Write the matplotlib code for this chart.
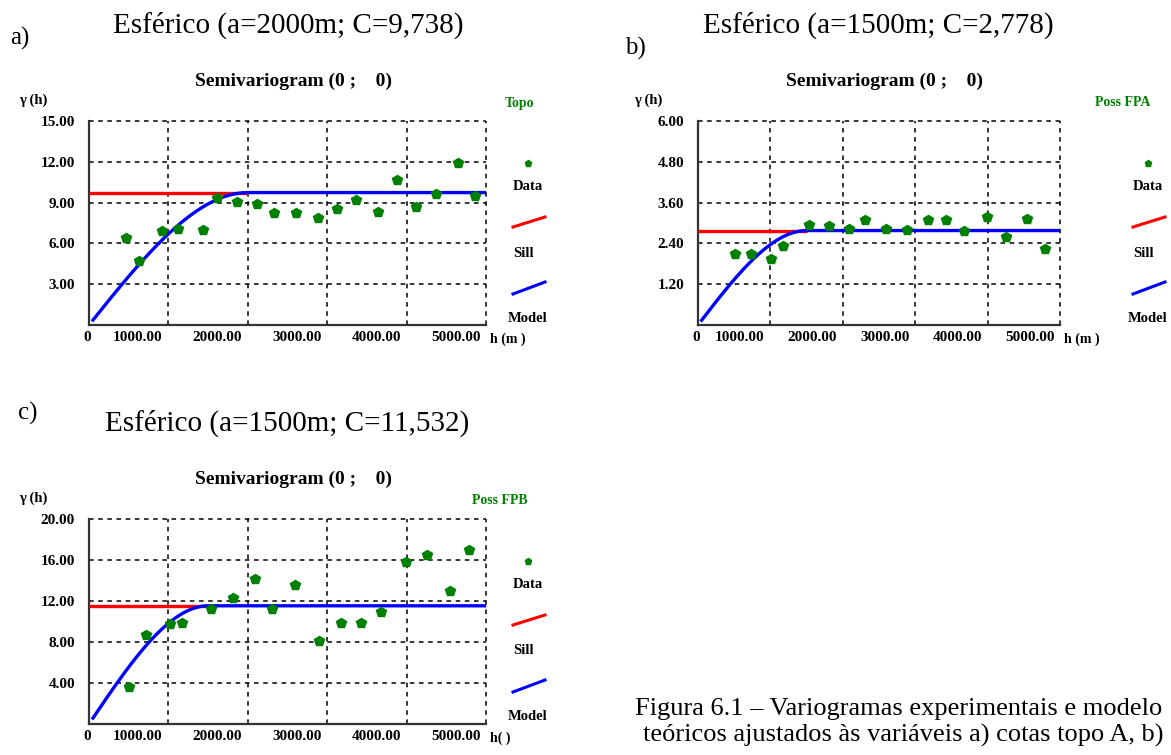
import numpy as np
import matplotlib.pyplot as plt
from matplotlib.lines import Line2D
import matplotlib.transforms as mtransforms

plt.rcParams['font.family'] = ['Liberation Serif', 'DejaVu Serif']

W, H = 1171, 755

# experimental semivariogram points (lag h in m, gamma)
h_topo = [462, 634, 919, 1117, 1432, 1608, 1864, 2116, 2334, 2603, 2880,
          3128, 3359, 3640, 3879, 4118, 4366, 4652, 4857]
g_topo = [6.41, 4.72, 6.90, 7.07, 6.97, 9.35, 9.05, 8.93, 8.25, 8.25, 7.90,
          8.56, 9.18, 8.32, 10.64, 8.64, 9.62, 11.94, 9.47]

h_fpa = [507, 728, 1014, 1175, 1535, 1811, 2092, 2304, 2594, 2889, 3171,
         3429, 3677, 3986, 4253, 4548, 4793]
g_fpa = [2.10, 2.10, 1.94, 2.32, 2.94, 2.91, 2.82, 3.08, 2.82, 2.79, 3.08,
         3.10, 2.77, 3.18, 2.59, 3.11, 2.25]

h_fpb = [508, 723, 1021, 1172, 1538, 1815, 2088, 2303, 2592, 2891, 3168,
         3420, 3676, 3992, 4252, 4542, 4790]
g_fpb = [3.65, 8.70, 9.77, 9.84, 11.21, 12.25, 14.17, 11.21, 13.52, 8.14,
         9.84, 9.84, 10.88, 15.80, 16.51, 12.93, 17.00]

# fitted spherical models
range_topo, sill_topo = 2000, 9.738
range_fpa, sill_fpa = 1500, 2.778
range_fpb, sill_fpb = 1500, 11.532

yticks_topo = [3, 6, 9, 12, 15]
yticks_fpa = [1.2, 2.4, 3.6, 4.8, 6.0]
yticks_fpb = [4, 8, 12, 16, 20]
xticks = [0, 1000, 2000, 3000, 4000, 5000]


def spherical(h, a, c):
    r = np.clip(h / a, 0, 1)
    return c * (1.5 * r - 0.5 * r ** 3)


def fx(x):
    return x / W


def fy(y):
    return 1 - y / H


def panel(fig, box, h, g, a, c, yticks, name, xlab, leg_x, name_x, ylab_x):
    x0, y0, x1, y1 = box
    ax = fig.add_axes([fx(x0), fy(y1), (x1 - x0) / W, (y1 - y0) / H])
    ax.set_xlim(0, 5000)
    ax.set_ylim(0, yticks[-1])

    # dashed grid, including top and right border
    for t in xticks[1:]:
        ax.axvline(t, color='black', lw=1.1, ls=(0, (3, 3)), clip_on=False, zorder=1)
    for t in yticks:
        ax.axhline(t, color='black', lw=1.1, ls=(0, (3, 3)), clip_on=False, zorder=1)
    for s in ['top', 'right']:
        ax.spines[s].set_visible(False)
    for s in ['left', 'bottom']:
        ax.spines[s].set_color('#333333')
        ax.spines[s].set_linewidth(1.6)

    ax.set_yticks(yticks)
    ax.set_yticklabels(['%.2f' % t for t in yticks], fontweight='bold', fontsize=11)
    ax.tick_params(axis='y', length=0, pad=10)
    ax.set_xticks([])

    for t in xticks:
        tr = mtransforms.offset_copy(ax.get_xaxis_transform(), fig=fig,
                                     x=(-1.5 if t == 0 else -4), y=-4, units='points')
        ax.text(t, 0, '0' if t == 0 else '%.2f' % t, transform=tr,
                ha='center' if t == 0 else 'right', va='top',
                fontweight='bold', fontsize=11)

    hh = np.linspace(50, 5000, 400)
    ax.plot([0, a], [c, c], color='#ff0000', lw=2.4, zorder=3, solid_capstyle='butt')
    ax.plot(hh, spherical(hh, a, c), color='#0000ff', lw=2.4, zorder=4)
    ax.plot(h, g, ls='none', marker='p', ms=7.5, color='#008000', zorder=5)

    # labels around the plot
    fig.text(fx(ylab_x), fy(y0 - 21), 'γ (h)', ha='center', va='center',
             fontweight='bold', fontsize=10.5)
    fig.text(fx(name_x), fy(y0 - 18), name, ha='center', va='center',
             fontweight='bold', fontsize=10, color='#008000')
    fig.text(fx(x1 + 4), fy(y1 + 14), xlab, ha='left', va='center',
             fontweight='bold', fontsize=10)
    fig.text(fx((x0 + x1) / 2 + 6), fy(y0 - 40), 'Semivariogram (0 ;    0)',
             ha='center', va='center', fontweight='bold', fontsize=14)

    # legend
    fig.add_artist(Line2D([fx(leg_x)], [fy(y0 + 42)], ls='none', marker='p',
                          ms=5, color='#008000'))
    fig.text(fx(leg_x), fy(y0 + 66), 'Data', ha='center', va='center',
             fontweight='bold', fontsize=10.5)
    fig.add_artist(Line2D([fx(leg_x - 15), fx(leg_x + 17)], [fy(y0 + 106), fy(y0 + 96)],
                          color='#ff0000', lw=2.2))
    fig.text(fx(leg_x - 4), fy(y0 + 132), 'Sill', ha='center', va='center',
             fontweight='bold', fontsize=10.5)
    fig.add_artist(Line2D([fx(leg_x - 15), fx(leg_x + 17)], [fy(y0 + 173), fy(y0 + 161)],
                          color='#0000ff', lw=2.2))
    fig.text(fx(leg_x), fy(y0 + 198), 'Model', ha='center', va='center',
             fontweight='bold', fontsize=10.5)
    return ax


fig = plt.figure(figsize=(W / 100, H / 100), dpi=100)
fig.patch.set_facecolor('white')

panel(fig, (89, 121, 486, 325), h_topo, g_topo, range_topo, sill_topo,
      yticks_topo, 'Topo', 'h (m )', 528, 520, 33)
panel(fig, (698, 121, 1060, 325), h_fpa, g_fpa, range_fpa, sill_fpa,
      yticks_fpa, 'Poss FPA', 'h (m )', 1148, 1123, 648)
panel(fig, (89, 519, 486, 724), h_fpb, g_fpb, range_fpb, sill_fpb,
      yticks_fpb, 'Poss FPB', 'h( )', 528, 500, 33)

title_kw = dict(ha='center', va='center', fontsize=21)
fig.text(fx(288), fy(25), 'Esférico (a=%dm; C=%s)' % (range_topo, str(sill_topo).replace('.', ',')), **title_kw)
fig.text(fx(878), fy(25), 'Esférico (a=%dm; C=%s)' % (range_fpa, str(sill_fpa).replace('.', ',')), **title_kw)
fig.text(fx(287), fy(423), 'Esférico (a=%dm; C=%s)' % (range_fpb, str(sill_fpb).replace('.', ',')), **title_kw)
fig.text(fx(20), fy(38), 'a)', ha='center', va='center', fontsize=18)
fig.text(fx(635), fy(48), 'b)', ha='center', va='center', fontsize=18)
fig.text(fx(28), fy(413), 'c)', ha='center', va='center', fontsize=18)

fig.text(fx(635), fy(709), 'Figura 6.1 – Variogramas experimentais e modelo',
         ha='left', va='center', fontsize=19)
fig.text(fx(643), fy(735), 'teóricos ajustados às variáveis a) cotas topo A, b)',
         ha='left', va='center', fontsize=19)

fig.savefig('out.png', dpi=100)
